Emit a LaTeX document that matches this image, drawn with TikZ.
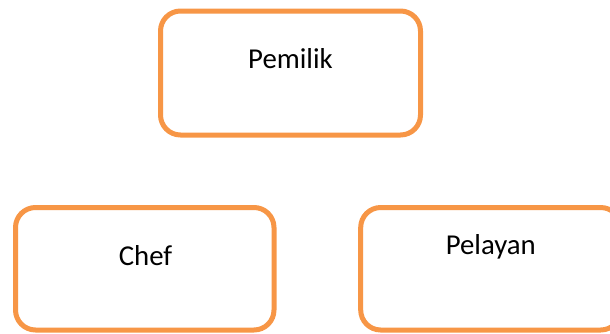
\documentclass[tikz,border=0pt]{standalone}
\usepackage{fontspec}
\setmainfont{Carlito}
\definecolor{boxorange}{HTML}{F79646}
\begin{document}
\begin{tikzpicture}[x=1pt,y=-1pt,
  orgbox/.style={draw=boxorange, line width=5pt, rounded corners=20pt, fill=white,
    inner sep=0pt, outer sep=0pt},
  lbl/.style={anchor=base, inner sep=0pt, font=\fontsize{28.8pt}{34pt}\selectfont}]
\useasboundingbox (0,0) rectangle (610,333);
\clip (0,0) rectangle (610,333);
\node[orgbox, minimum width=260pt, minimum height=124pt] (pemilik) at (290.5,73) {};
\node[orgbox, minimum width=258.5pt, minimum height=122.5pt] (chef) at (144.75,268.75) {};
\node[orgbox, minimum width=260pt, minimum height=122.5pt] (pelayan) at (490.7,268.75) {};
\node[lbl] (tpemilik) at (290.5,68.5) {Pemilik};
\node[lbl] (tchef) at (145.5,265) {Chef};
\node[lbl] (tpelayan) at (490.8,254.3) {Pelayan};
\end{tikzpicture}
\end{document}
